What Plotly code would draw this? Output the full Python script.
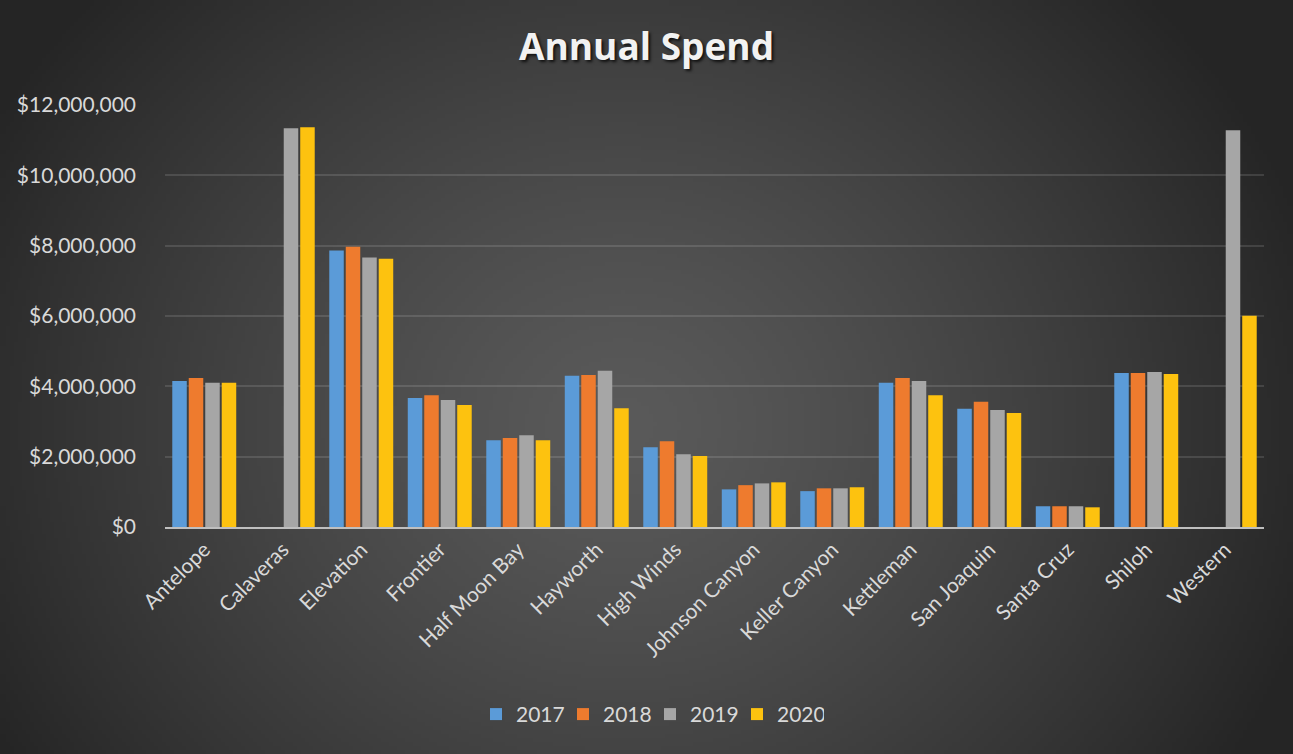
import base64
import struct
import zlib

import numpy as np
import plotly.graph_objects as go

# ---- data -----------------------------------------------------------------
sites = ["Antelope", "Calaveras", "Elevation", "Frontier", "Half Moon Bay",
         "Hayworth", "High Winds", "Johnson Canyon", "Keller Canyon",
         "Kettleman", "San Joaquin", "Santa Cruz", "Shiloh", "Western"]

spend_2017 = [4150000, 0, 7860000, 3670000, 2470000, 4300000, 2270000,
              1070000, 1020000, 4100000, 3360000, 590000, 4380000, 0]
spend_2018 = [4240000, 0, 7970000, 3750000, 2530000, 4320000, 2440000,
              1190000, 1100000, 4240000, 3560000, 590000, 4380000, 0]
spend_2019 = [4100000, 11340000, 7660000, 3610000, 2610000, 4440000, 2070000,
              1240000, 1100000, 4150000, 3330000, 590000, 4410000, 11280000]
spend_2020 = [4100000, 11370000, 7630000, 3470000, 2470000, 3380000, 2020000,
              1270000, 1130000, 3750000, 3240000, 560000, 4350000, 6010000]

years = ["2017", "2018", "2019", "2020"]
series = [spend_2017, spend_2018, spend_2019, spend_2020]
colors = ["#5B9BD8", "#EE7B2E", "#A6A6A6", "#FDC20F"]

y_ticks = [0, 2000000, 4000000, 6000000, 8000000, 10000000, 12000000]
y_tick_labels = ["$0", "$2,000,000", "$4,000,000", "$6,000,000",
                 "$8,000,000", "$10,000,000", "$12,000,000"]

W, H = 1293, 754


# ---- radial background, encoded as a small PNG ------------------------------
def radial_png(w, h):
    ys, xs = np.mgrid[0:h, 0:w].astype(float)
    cx, cy = 0.48 * w, 0.56 * h
    d = np.sqrt(((xs - cx) / (0.56 * w)) ** 2 + ((ys - cy) / (0.85 * h)) ** 2)
    t = np.clip(d, 0, 1) ** 1.3
    inner, outer = 0x5A, 0x25
    v = (inner + (outer - inner) * t).astype(np.uint8)
    rgb = np.stack([v, v, v], axis=-1)
    raw = b"".join(b"\x00" + rgb[r].tobytes() for r in range(h))

    def chunk(tag, data):
        c = struct.pack(">I", len(data)) + tag + data
        return c + struct.pack(">I", zlib.crc32(tag + data) & 0xFFFFFFFF)

    png = b"\x89PNG\r\n\x1a\n"
    png += chunk(b"IHDR", struct.pack(">IIBBBBB", w, h, 8, 2, 0, 0, 0))
    png += chunk(b"IDAT", zlib.compress(raw, 9))
    png += chunk(b"IEND", b"")
    return "data:image/png;base64," + base64.b64encode(png).decode()


bg = radial_png(324, 189)

# ---- figure -------------------------------------------------------------------
fig = go.Figure()
for name, vals, col in zip(years, series, colors):
    fig.add_trace(go.Bar(
        name=name, x=sites, y=vals,
        marker=dict(color=col, line=dict(width=0)),
        hovertemplate="%{x}<br>" + name + ": $%{y:,.0f}<extra></extra>",
    ))

font_family = "Lato, 'Open Sans', sans-serif"

fig.update_layout(
    width=W, height=H,
    barmode="group", bargap=0.16, bargroupgap=0.12,
    paper_bgcolor="#333333", plot_bgcolor="rgba(0,0,0,0)",
    margin=dict(l=165, r=29, t=105, b=227, autoexpand=False),
    font=dict(family=font_family, color="#D9D9D9"),
    title=dict(
        text="<b>Annual Spend</b>", x=0.5, xref="container", xanchor="center",
        y=1 - 47 / H, yref="container", yanchor="middle",
        font=dict(size=37, color="#F2F2F2", family="'Open Sans', sans-serif",
                  shadow="2px 2px 3px rgba(0,0,0,0.75)"),
    ),
    images=[dict(source=bg, xref="paper", yref="paper", x=-165 / 1099,
                 y=1 + 105 / 421, sizex=W / 1099, sizey=H / 421,
                 xanchor="left", yanchor="top", sizing="stretch",
                 layer="below")],
    xaxis=dict(
        tickangle=-45, tickfont=dict(size=21, color="#D9D9D9"),
        showgrid=False, showline=True, linecolor="#BFBFBF", linewidth=2,
        ticks="", zeroline=False,
    ),
    yaxis=dict(
        range=[0, 12000000], tickvals=y_ticks, ticktext=y_tick_labels,
        tickfont=dict(size=21, color="#D9D9D9"),
        gridcolor="rgba(255,255,255,0.12)", gridwidth=1.5,
        zeroline=False, showline=False, ticks="", ticklabelstandoff=28,
    ),
    legend=dict(
        orientation="h", x=(650 - 165) / 1099, xanchor="center",
        y=-(714 - 527) / 421, yanchor="middle",
        font=dict(size=21, color="#D9D9D9"), bgcolor="rgba(0,0,0,0)",
        traceorder="normal", itemsizing="constant",
        entrywidth=42, entrywidthmode="pixels",
    ),
)

fig.write_html("out.html")
